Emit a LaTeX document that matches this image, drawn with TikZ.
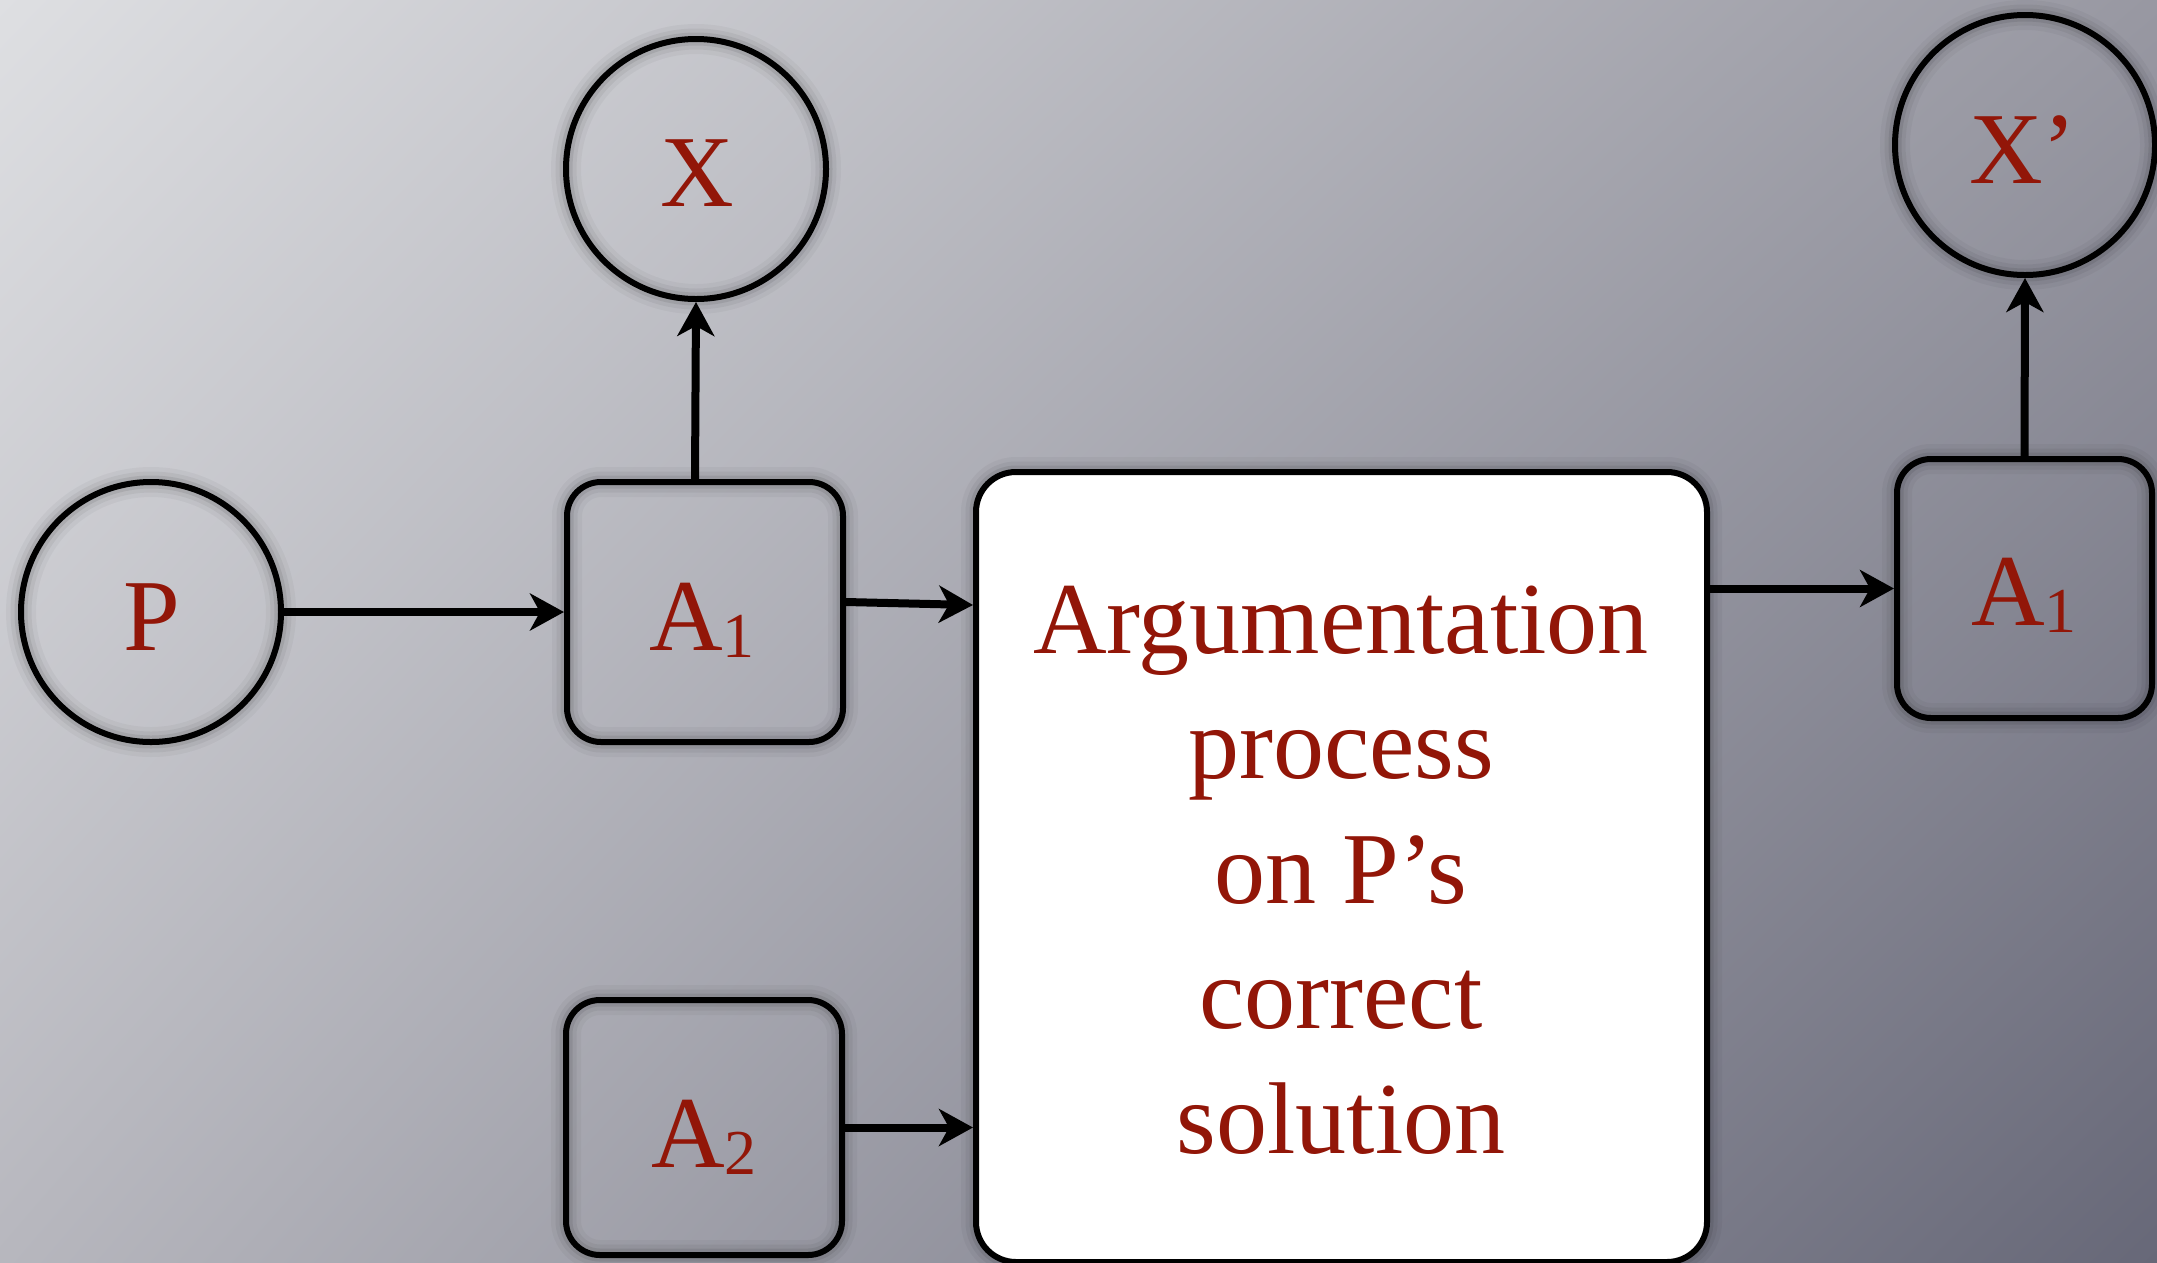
\documentclass[tikz,border=0pt]{standalone}
\usepackage{fontspec}
\setmainfont{Liberation Serif}
\usetikzlibrary{arrows.meta,shadings}
\definecolor{bgUL}{RGB}{222,223,226}
\definecolor{bgUR}{RGB}{152,152,162}
\definecolor{bgLL}{RGB}{183,183,190}
\definecolor{bgLR}{RGB}{103,104,120}
\definecolor{txtred}{RGB}{146,22,8}
\tikzset{
  txt/.style={font=\fontsize{102}{125}\selectfont, text=txtred, inner sep=0pt, anchor=base},
  halo/.style={
    preaction={draw=black, draw opacity=0.035, line width=30pt},
    preaction={draw=black, draw opacity=0.05, line width=21pt},
    preaction={draw=black, draw opacity=0.08, line width=13pt}},
  ring/.style={circle, draw=black, line width=6pt, minimum size=260pt, inner sep=0pt, halo},
  abox/.style={rectangle, rounded corners=34pt, draw=black, line width=6pt, inner sep=0pt, halo},
  arr/.style={line width=8pt, -{Stealth[length=34pt,width=37pt,inset=10pt]}},
}
\newcommand\subnum[1]{\raisebox{-7pt}{\fontsize{64}{64}\selectfont #1}}
\begin{document}
\begin{tikzpicture}[x=1pt, y=-1pt]
\useasboundingbox (0,0) rectangle (2157,1262);
\shade[upper left=bgUL, upper right=bgUR, lower left=bgLL, lower right=bgLR] (0,0) rectangle (2157,1262);

% shapes
\node[ring] (P) at (151,612) {};
\node[ring] (X) at (696,169) {};
\node[ring] (Xp) at (2025,145) {};
\node[abox, minimum width=276pt, minimum height=260pt] (A1) at (705,612) {};
\node[abox, minimum width=276pt, minimum height=255pt] (A2) at (704,1127.5) {};
\node[abox, minimum width=255pt, minimum height=259pt] (A1p) at (2024.5,588.5) {};
\node[rectangle, rounded corners=40pt, draw=black, fill=white, line width=6pt,
      minimum width=731pt, minimum height=790pt, inner sep=0pt, halo] (big) at (1341.5,867) {};

% labels
\node[txt] (Pt) at (152,650) {P};
\node[txt] (Xt) at (697,206) {X};
\node[txt] (Xpt) at (2023,183) {X’};
\node[txt] (A1t) at (702,650) {A\subnum{1}};
\node[txt] (A2t) at (704,1167) {A\subnum{2}};
\node[txt] (A1pt) at (2024,625) {A\subnum{1}};
\node[txt] (t1) at (1341,653) {Argumentation};
\node[txt] (t2) at (1341,778) {process};
\node[txt] (t3) at (1341,903) {on P’s};
\node[txt] (t4) at (1341,1028) {correct};
\node[txt] (t5) at (1341,1153) {solution};

% connectors
\coordinate (c1s) at ([yshift=10pt]A1.east);
\coordinate (c1e) at ([yshift=7pt]A1.east);
\coordinate (cXs) at ([xshift=-10pt]A1.north);
\draw[arr] (P.east) -- (A1.west);
\draw[arr] (cXs) -- (X.south);
\draw[arr] (c1s) -- (c1e -| big.west);
\draw[arr] (A2.east) -- (A2.east -| big.west);
\draw[arr] (A1p.west -| big.east) -- (A1p.west);
\draw[arr] (A1p.north) -- (Xp.south);
\end{tikzpicture}
\end{document}
